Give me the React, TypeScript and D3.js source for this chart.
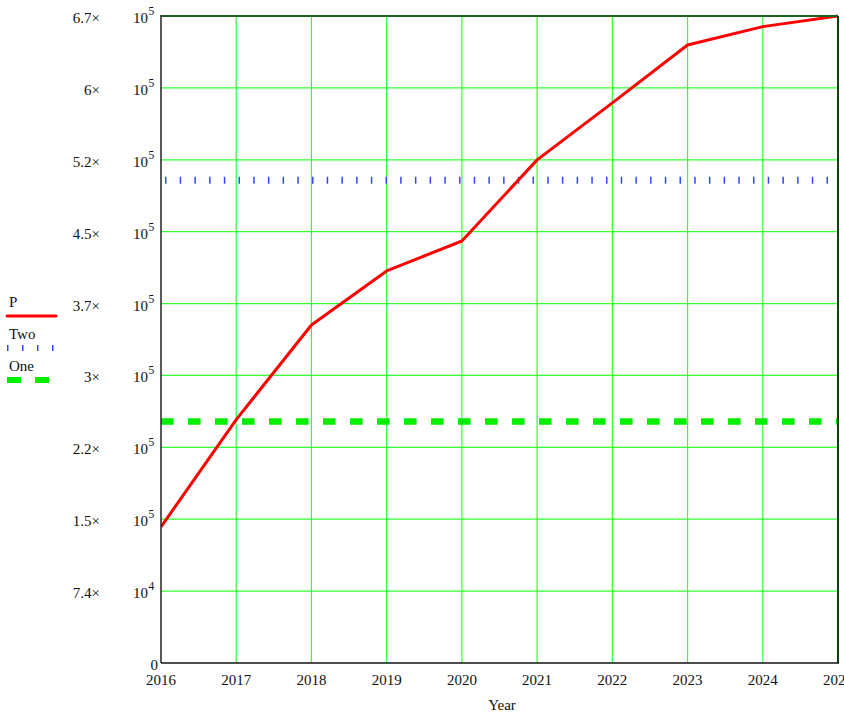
import React from "react";
import * as d3 from "d3";

const years = [2016, 2017, 2018, 2019, 2020, 2021, 2022, 2023, 2024, 2025];
const pValues = [141000, 252000, 350000, 406000, 437000, 521000, 580000, 640000, 659000, 670000];
const twoValue = 500000;
const oneValue = 250000;
const yMax = 670000;
const yTickMantissa = ["7.4", "1.5", "2.2", "3", "3.7", "4.5", "5.2", "6", "6.7"];
const yTickExp = ["4", "5", "5", "5", "5", "5", "5", "5", "5"];

const W = 844, H = 712;
const L = 161, R = 838, T = 16, B = 663;
const FONT = "'Liberation Serif', 'DejaVu Serif', serif";

export default function App() {
  const x = d3.scaleLinear().domain([2016, 2025]).range([L, R]);
  const y = d3.scaleLinear().domain([0, yMax]).range([B, T]);
  const yTicks = d3.range(1, 10).map((i) => (yMax * i) / 9);
  const line = d3.line<number>().x((_, i) => x(years[i])).y((d) => y(d));

  return (
    <svg width={W} height={H} style={{ position: "absolute", left: 0, top: 0, background: "#fff" }} fontFamily={FONT}>
      <defs>
        <clipPath id="plot">
          <rect x={L} y={T - 2} width={R - L} height={B - T + 2} />
        </clipPath>
      </defs>
      {/* grid */}
      {years.slice(1, -1).map((yr) => (
        <line key={yr} x1={x(yr)} x2={x(yr)} y1={T} y2={B} stroke="#33ff33" strokeWidth={1.2} />
      ))}
      {yTicks.slice(0, -1).map((v, i) => (
        <line key={i} x1={L} x2={R} y1={y(v)} y2={y(v)} stroke="#33ff33" strokeWidth={1.2} />
      ))}
      {/* series */}
      <g clipPath="url(#plot)">
        <line x1={L} x2={R} y1={y(oneValue)} y2={y(oneValue)} stroke="#00ee00" strokeWidth={6.5} strokeDasharray="12.6 14.4" />
        <line x1={L + 4} x2={R} y1={y(twoValue)} y2={y(twoValue)} stroke="#3344ff" strokeWidth={7} strokeDasharray="1.5 13.2" />
        <path d={line(pValues) || ""} fill="none" stroke="#ff0000" strokeWidth={3} strokeLinejoin="round" />
      </g>
      {/* frame */}
      <line x1={L} x2={R} y1={T} y2={T} stroke="#1f5f1f" strokeWidth={2} />
      <line x1={R} x2={R} y1={T} y2={B} stroke="#0f3f0f" strokeWidth={2} />
      <line x1={L} x2={L} y1={T - 1} y2={B} stroke="#222" strokeWidth={1.5} />
      <line x1={L} x2={R + 1} y1={B} y2={B} stroke="#111" strokeWidth={1.5} />
      {/* y tick labels */}
      {yTicks.map((v, i) => (
        <g key={i}>
          <text x={100} y={y(v) + 7} textAnchor="end" fontSize={15} fill="#111">{yTickMantissa[i]}×</text>
          <text x={148} y={y(v) + 7} textAnchor="end" fontSize={15} fill="#111">10</text>
          <text x={148.5} y={y(v) - 1} fontSize={11.5} fill="#111">{yTickExp[i]}</text>
        </g>
      ))}
      <text x={158} y={B + 7} textAnchor="end" fontSize={15} fill="#111">0</text>
      {/* x tick labels */}
      {years.map((yr) => (
        <text key={yr} x={x(yr)} y={685} textAnchor="middle" fontSize={15} fill="#111">{yr}</text>
      ))}
      <text x={502} y={710} textAnchor="middle" fontSize={15} fill="#111">Year</text>
      {/* legend */}
      <text x={9} y={307} fontSize={15} fill="#111">P</text>
      <line x1={7} x2={56} y1={316} y2={316} stroke="#ff0000" strokeWidth={3} strokeLinecap="round" />
      <text x={9} y={339} fontSize={15} fill="#111">Two</text>
      <line x1={7} x2={56} y1={348} y2={348} stroke="#3344ff" strokeWidth={6} strokeDasharray="1.5 13.5" />
      <text x={9} y={371} fontSize={15} fill="#111">One</text>
      <line x1={7} x2={50} y1={380} y2={380} stroke="#00ee00" strokeWidth={6} strokeDasharray="14 14" />
    </svg>
  );
}
